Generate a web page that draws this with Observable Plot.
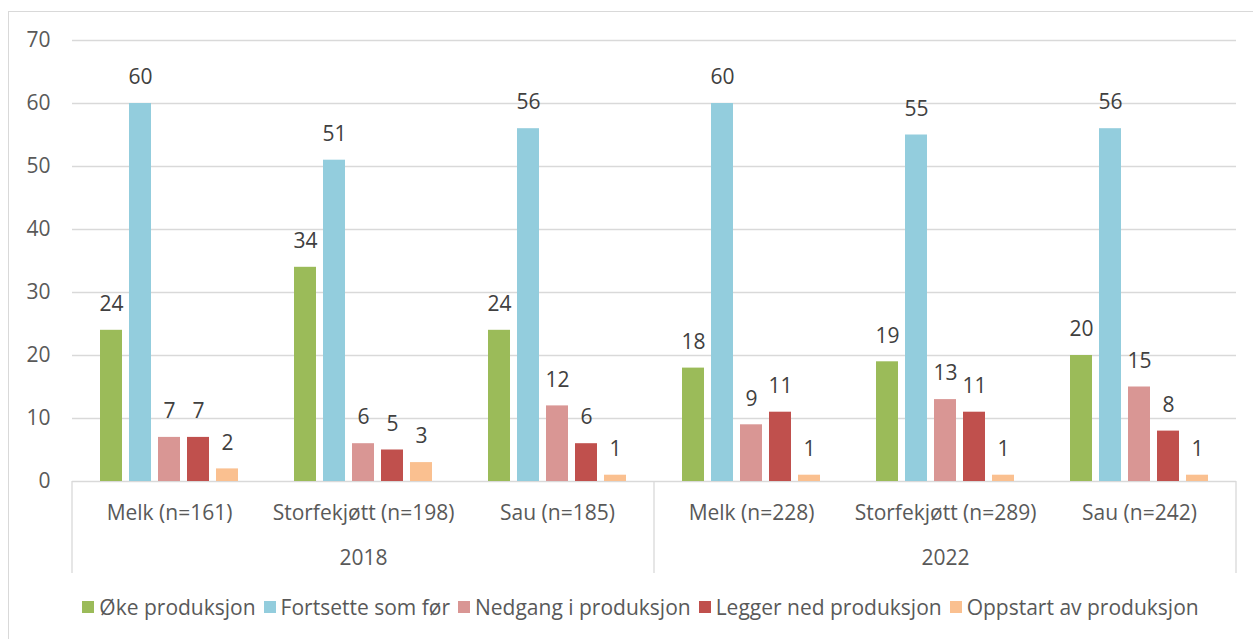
<!DOCTYPE html>
<html>
<head>
<meta charset="utf-8">
<script src="https://cdn.jsdelivr.net/npm/d3@7"></script>
<script src="https://cdn.jsdelivr.net/npm/@observablehq/plot@0.6"></script>
<style>
  html, body { margin: 0; padding: 0; background: #fff; overflow: hidden; }
  #frame { position: absolute; left: 8px; top: 11px; width: 1300px; height: 700px; border: 1px solid #d9d9d9; box-sizing: border-box; }
  #chart { position: absolute; left: 0; top: 0; }
  #legend { position: absolute; left: 14px; top: 593px; width: 1253px; display: flex; justify-content: center; align-items: center;
            font-family: "Open Sans", Lato, sans-serif; font-size: 21px; color: #595959; white-space: nowrap; }
  #legend .item { display: flex; align-items: center; margin: 0 4px; }
  #legend .sw { width: 12px; height: 12px; margin-right: 5px; }
</style>
</head>
<body>
<div id="frame"></div>
<div id="chart"></div>
<div id="legend"></div>
<script>
const years = ["2018", "2022"];
const groups2018 = ["Melk (n=161)", "Storfekjøtt (n=198)", "Sau (n=185)"];
const groups2022 = ["Melk (n=228)", "Storfekjøtt (n=289)", "Sau (n=242)"];
const series = ["Øke produksjon", "Fortsette som før", "Nedgang i produksjon", "Legger ned produksjon", "Oppstart av produksjon"];
const colors = ["#9BBB59", "#93CDDD", "#D99694", "#C0504D", "#FAC090"];
const okeProduksjon      = [24, 34, 24, 18, 19, 20];
const fortsetteSomFor    = [60, 51, 56, 60, 55, 56];
const nedgangProduksjon  = [7, 6, 12, 9, 13, 15];
const leggerNed          = [7, 5, 6, 11, 11, 8];
const oppstart           = [2, 3, 1, 1, 1, 1];
const yTicks = [0, 10, 20, 30, 40, 50, 60, 70];

const groups = [...groups2018, ...groups2022];
const seriesValues = [okeProduksjon, fortsetteSomFor, nedgangProduksjon, leggerNed, oppstart];
const data = [];
groups.forEach((g, gi) => {
  series.forEach((s, si) => {
    data.push({group: g, series: s, value: seriesValues[si][gi]});
  });
});
const yearLabels = [
  {group: groups2018[1], year: years[0]},
  {group: groups2022[1], year: years[1]}
];

const font = '"Open Sans", Lato, sans-serif';
const plot = Plot.plot({
  width: 1253,
  height: 580,
  marginLeft: 72,
  marginRight: 17,
  marginTop: 40,
  marginBottom: 99,
  style: {fontFamily: font, fontSize: "21px", color: "#595959", background: "transparent", overflow: "visible"},
  fx: {domain: groups, padding: 0, axis: null},
  x: {domain: series, paddingInner: 0.226, paddingOuter: 0.88, axis: null},
  y: {domain: [0, 70], axis: null},
  color: {domain: series, range: colors},
  marks: [
    Plot.gridY(yTicks, {stroke: "#d9d9d9", strokeOpacity: 1, strokeWidth: 1.3}),
    Plot.axisY(yTicks, {tickSize: 0, tickPadding: 22, fontSize: 21, label: null}),
    Plot.axisFx({anchor: "bottom", tickSize: 0, tickPadding: 24, fontSize: 21, label: null}),
    Plot.barY(data, {fx: "group", x: "series", y: "value", fill: "series"}),
    Plot.text(data, {fx: "group", x: "series", y: "value", text: d => String(d.value), dy: -26, fill: "#404040", fontSize: 21}),
    Plot.text(yearLabels, {fx: "group", text: "year", frameAnchor: "bottom", dy: 83, fill: "#595959", fontSize: 21})
  ]
});
document.getElementById("chart").appendChild(plot);

// Category-group separator lines, placed with the plot's own scales
const fx = plot.scale("fx");
const y = plot.scale("y");
const svg = d3.select(plot);
const y0 = y.apply(0);
const seps = [fx.apply(groups2018[0]), fx.apply(groups2022[0]), fx.apply(groups2022[2]) + fx.bandwidth];
svg.append("g").selectAll("line").data(seps).join("line")
  .attr("x1", d => d).attr("x2", d => d)
  .attr("y1", y0).attr("y2", y0 + 92)
  .attr("stroke", "#d9d9d9").attr("stroke-width", 1.3);

// Legend
const color = plot.scale("color");
const legend = d3.select("#legend");
series.forEach(s => {
  const item = legend.append("div").attr("class", "item");
  item.append("div").attr("class", "sw").style("background", color.apply(s));
  item.append("span").text(s);
});
</script>
</body>
</html>
